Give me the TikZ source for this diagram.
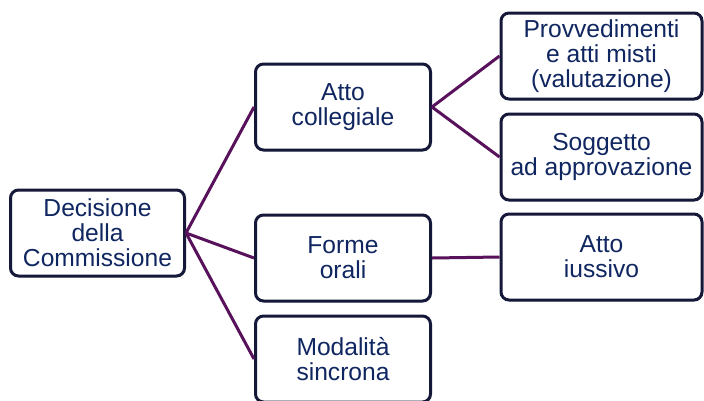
\documentclass[tikz,border=0pt]{standalone}
\usepackage{fontspec}
\setmainfont{Liberation Sans}
\usetikzlibrary{shadows}
\definecolor{textnavy}{RGB}{16,38,96}
\definecolor{edgenavy}{RGB}{22,24,58}
\definecolor{linkpurple}{RGB}{88,18,92}
\newcommand{\boxfont}{\fontsize{24.6}{25}\selectfont}

\begin{document}
\begin{tikzpicture}[x=1pt,y=-1pt,
  box/.style={draw=edgenavy, line width=3pt, rounded corners=8pt, fill=white,
    text=textnavy, font=\boxfont, align=center, minimum height=86pt,
    drop shadow={shadow xshift=1pt, shadow yshift=-1.5pt, opacity=0.2, fill=gray}},
  link/.style={draw=linkpurple, line width=3pt}]

 \useasboundingbox (0,0) rectangle (704,400);

 \node[box, minimum width=174pt] (dec) at (97.5,233) {Decisione\\della\\Commissione};

 \node[box, minimum width=175pt] (coll) at (343,107) {Atto\\collegiale};
 \node[box, minimum width=175pt] (orali) at (343,258) {Forme\\orali};
 \node[box, minimum width=175pt] (sincr) at (343,359) {Modalità\\sincrona};

 \node[box, minimum width=201pt] (prov) at (601.5,56) {Provvedimenti\\e atti misti\\(valutazione)};
 \node[box, minimum width=201pt] (sogg) at (601.5,157) {Soggetto\\ad approvazione};
 \node[box, minimum width=201pt] (iuss) at (601.5,257) {Atto\\iussivo};

   \draw[link] (dec.east) -- (coll.west);
   \draw[link] (dec.east) -- (orali.west);
   \draw[link] (dec.east) -- (sincr.west);
   \draw[link] (coll.east) -- (prov.west);
   \draw[link] (coll.east) -- (sogg.west);
   \draw[link] (orali.east) -- (iuss.west);

\end{tikzpicture}
\end{document}
